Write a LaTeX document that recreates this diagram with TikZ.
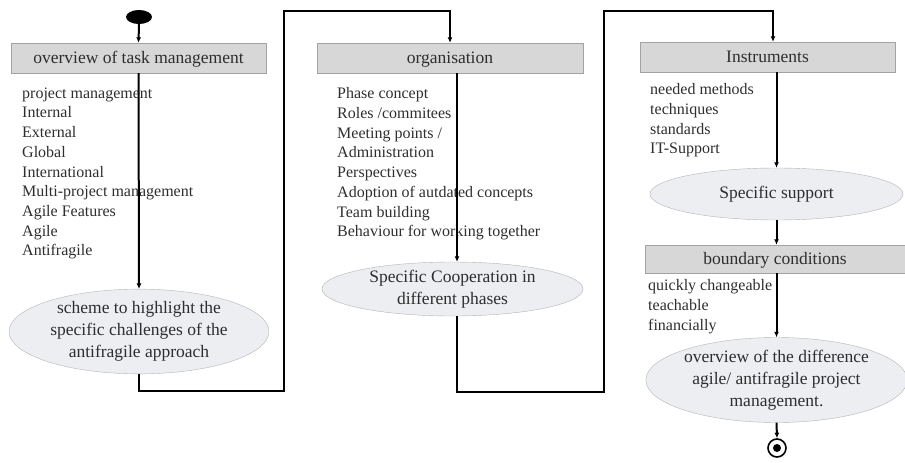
\documentclass[tikz,border=0pt]{standalone}
\usepackage{fontspec}
\setmainfont{Liberation Serif}
\usetikzlibrary{shapes.geometric,arrows.meta}
\definecolor{boxfill}{HTML}{D7D7D7}
\definecolor{boxline}{HTML}{A3A3A3}
\definecolor{ellfill}{HTML}{ECEEF2}
\definecolor{ellline}{HTML}{B4B4B4}
\definecolor{inktext}{HTML}{2E2E2E}
\begin{document}
\begin{tikzpicture}[x=1pt, y=-1pt,
        task box/.style={
            draw=boxline,
            fill=boxfill,
            minimum height=30pt,
            inner sep=0pt,
            text height=14pt,
            text depth=2.5pt,
            text=inktext,
            font=\fontsize{17.5}{21}\selectfont
        },
        goal ellipse/.style={
            ellipse,
            draw=ellline,
            fill=ellfill,
            align=center,
            inner sep=0pt,
            text=inktext,
            font=\fontsize{17.5}{22}\selectfont
        },
        item list/.style={
            anchor=north west,
            align=left,
            inner sep=0pt,
            text=inktext,
            font=\fontsize{16}{19.7}\selectfont
        },
        flow/.style={-{Latex[length=5.5pt,width=5pt]}, line width=2pt}
    ]
        \useasboundingbox (0,0) rectangle (905,463);

        % first column
        \node[ellipse, fill=black, minimum width=26pt, minimum height=14pt, inner sep=0pt] (start) at (139,17) {};
        \node[task box, minimum width=255pt] (overview) at (138.5,58) {overview of task management};
        \node[item list] (tasklist) at (22,87.5)
            {project management\\Internal\\External\\Global\\International\\Multi-project management\\Agile Features\\Agile\\Antifragile};
        \node[goal ellipse, minimum width=260pt, minimum height=83pt] (scheme) at (139,331.5)
            {scheme to highlight the\\specific challenges of the\\antifragile approach};

        % second column
        \node[task box, minimum width=266pt] (organisation) at (450,58) {organisation};
        \node[item list] (orglist) at (337,87.5)
            {Phase concept\\Roles /commitees\\Meeting points /\\Administration\\Perspectives\\Adoption of autdated concepts\\Team building\\Behaviour for working together};
        \node[goal ellipse, minimum width=261pt, minimum height=54pt] (cooperation) at (452.5,289)
            {Specific Cooperation in\\different phases};

        % third column
        \node[task box, minimum width=255pt] (instruments) at (767.5,57) {Instruments};
        \node[item list] (instlist) at (650,83.5)
            {needed methods\\techniques\\standards\\IT-Support};
        \node[goal ellipse, minimum width=253pt, minimum height=52pt] (support) at (776.5,194)
            {Specific support};
        \node[task box, minimum width=260pt, minimum height=28pt] (boundary) at (775,259) {boundary conditions};
        \node[item list] (boundlist) at (648,279.5)
            {quickly changeable\\teachable\\financially};
        \node[goal ellipse, minimum width=257pt, minimum height=80pt] (difference) at (776.5,380)
            {overview of the difference\\agile/ antifragile project\\management.};
        \node[circle, draw, line width=1.6pt, minimum size=18pt, inner sep=0pt] (finish) at (777,448) {};
        \fill (finish.center) circle (4pt);

        % bends of the return lines
        \coordinate (lowa) at (284,391);
        \coordinate (topa) at (284,11);
        \coordinate (lowb) at (604,392);
        \coordinate (topb) at (604,11);

        \draw[flow] (start.south) -- (overview.north);
        \draw[flow] (overview.south) -- (scheme.north);
        \draw[flow] (scheme.south) |- (lowa) -- (topa) -| (organisation.north);
        \draw[flow] ([xshift=7pt]organisation.south) -- ([xshift=7pt]organisation.south |- cooperation.north);
        \draw[flow] ([xshift=4.5pt]cooperation.south) |- (lowb) -- (topb) -| ([xshift=5.5pt]instruments.north);
        \draw[flow] (support.north |- instruments.south) -- (support.north);
        \draw[flow] (support.south) -- (support.south |- boundary.north);
        \draw[flow] (difference.north |- boundary.south) -- (difference.north);
        \draw[flow] (difference.south) -- (finish.north);
    \end{tikzpicture}
\end{document}
